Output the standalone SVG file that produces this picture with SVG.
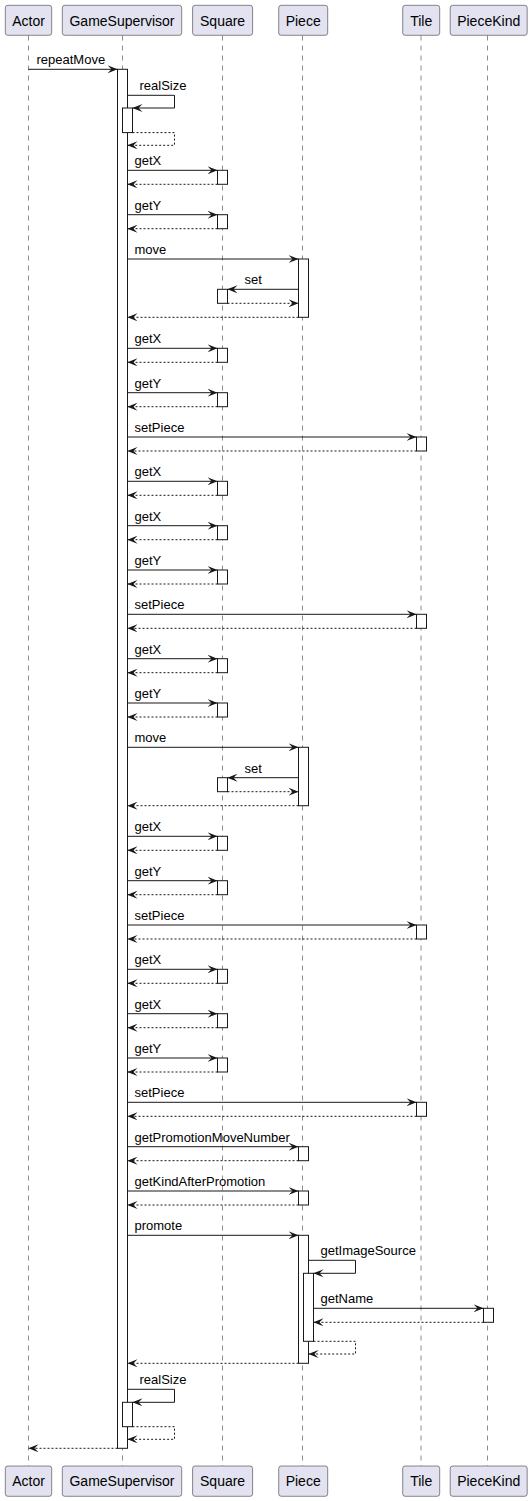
<svg xmlns="http://www.w3.org/2000/svg" width="531" height="1501" viewBox="0 0 531 1501">
<style>
.box{fill:#E2E2F0;stroke:#181818;stroke-width:0.5}
.life{stroke:#181818;stroke-width:0.5;stroke-dasharray:5,5;fill:none}
.act{fill:#FFFFFF;stroke:#181818;stroke-width:1}
.msg{stroke:#181818;stroke-width:1;fill:none}
.ret{stroke:#181818;stroke-width:1;fill:none;stroke-dasharray:2,2}
.pt{font-family:"Liberation Sans",Arial,sans-serif;font-size:14px;fill:#000;text-anchor:middle}
.ml{font-family:"Liberation Sans",Arial,sans-serif;font-size:13px;fill:#000}
</style>
<defs>
<marker id="ah" viewBox="0 0 10 8" refX="10" refY="4" markerWidth="10" markerHeight="8" markerUnits="userSpaceOnUse" orient="auto">
<path d="M0,0 L10,4 L0,8 L4,4 Z" fill="#181818" stroke="none"/>
</marker>
</defs>
<rect width="531" height="1501" fill="#FFFFFF"/>

<g id="Actor">
<line class="life" x1="28.5" y1="35.5" x2="28.5" y2="1466"/>
<rect class="box" x="5.3" y="5.3" width="46.4" height="30" rx="2.5"/>
<text class="pt" x="28.5" y="25.5">Actor</text>
<rect class="box" x="5.3" y="1466" width="46.4" height="30.3" rx="2.5"/>
<text class="pt" x="28.5" y="1486.3">Actor</text>
</g>

<g id="GameSupervisor">
<line class="life" x1="122.5" y1="35.5" x2="122.5" y2="1466"/>
<rect class="box" x="62.3" y="5.3" width="119.4" height="30" rx="2.5"/>
<text class="pt" x="122" y="25.5">GameSupervisor</text>
<rect class="box" x="62.3" y="1466" width="119.4" height="30.3" rx="2.5"/>
<text class="pt" x="122" y="1486.3">GameSupervisor</text>
<rect class="act" x="117.5" y="69.3" width="10" height="1379"/>
<rect class="act" x="122.5" y="108" width="10" height="24.6"/>
<rect class="act" x="122.5" y="1402.3" width="10" height="24.4"/>
</g>

<g id="Square">
<line class="life" x1="222.5" y1="35.5" x2="222.5" y2="1466"/>
<rect class="box" x="192.6" y="5.3" width="60" height="30" rx="2.5"/>
<text class="pt" x="222.6" y="25.5">Square</text>
<rect class="box" x="192.6" y="1466" width="60" height="30.3" rx="2.5"/>
<text class="pt" x="222.6" y="1486.3">Square</text>
<rect class="act" x="217.5" y="170.3" width="10" height="14"/>
<rect class="act" x="217.5" y="214.7" width="10" height="14"/>
<rect class="act" x="217.5" y="289.3" width="10" height="14"/>
<rect class="act" x="217.5" y="348.3" width="10" height="14"/>
<rect class="act" x="217.5" y="392.7" width="10" height="14"/>
<rect class="act" x="217.5" y="481.3" width="10" height="14"/>
<rect class="act" x="217.5" y="525.7" width="10" height="14"/>
<rect class="act" x="217.5" y="570" width="10" height="14"/>
<rect class="act" x="217.5" y="658.7" width="10" height="14"/>
<rect class="act" x="217.5" y="703" width="10" height="14"/>
<rect class="act" x="217.5" y="777.7" width="10" height="14"/>
<rect class="act" x="217.5" y="836.3" width="10" height="14"/>
<rect class="act" x="217.5" y="880.7" width="10" height="14"/>
<rect class="act" x="217.5" y="969.3" width="10" height="14"/>
<rect class="act" x="217.5" y="1013.7" width="10" height="14"/>
<rect class="act" x="217.5" y="1058" width="10" height="14"/>
</g>

<g id="Piece">
<line class="life" x1="302.5" y1="35.5" x2="302.5" y2="1466"/>
<rect class="box" x="278.7" y="5.3" width="49" height="30" rx="2.5"/>
<text class="pt" x="303.2" y="25.5">Piece</text>
<rect class="box" x="278.7" y="1466" width="49" height="30.3" rx="2.5"/>
<text class="pt" x="303.2" y="1486.3">Piece</text>
<rect class="act" x="298.5" y="259" width="10" height="58.3"/>
<rect class="act" x="298.5" y="747.3" width="10" height="58.4"/>
<rect class="act" x="298.5" y="1146.7" width="10" height="14"/>
<rect class="act" x="298.5" y="1191" width="10" height="14"/>
<rect class="act" x="298.5" y="1235.3" width="10" height="128"/>
<rect class="act" x="303.5" y="1273.3" width="10" height="68"/>
</g>

<g id="Tile">
<line class="life" x1="421" y1="35.5" x2="421" y2="1466"/>
<rect class="box" x="402.7" y="5.3" width="37" height="30" rx="2.5"/>
<text class="pt" x="421.2" y="25.5">Tile</text>
<rect class="box" x="402.7" y="1466" width="37" height="30.3" rx="2.5"/>
<text class="pt" x="421.2" y="1486.3">Tile</text>
<rect class="act" x="416.5" y="437" width="10" height="14"/>
<rect class="act" x="416.5" y="614.3" width="10" height="14"/>
<rect class="act" x="416.5" y="925" width="10" height="14"/>
<rect class="act" x="416.5" y="1102.3" width="10" height="14"/>
</g>

<g id="PieceKind">
<line class="life" x1="487.5" y1="35.5" x2="487.5" y2="1466"/>
<rect class="box" x="450.2" y="5.3" width="77" height="30" rx="2.5"/>
<text class="pt" x="488.7" y="25.5">PieceKind</text>
<rect class="box" x="450.2" y="1466" width="77" height="30.3" rx="2.5"/>
<text class="pt" x="488.7" y="1486.3">PieceKind</text>
<rect class="act" x="483.5" y="1308.3" width="10" height="14"/>
</g>

<g id="connectors">
<line class="msg" x1="28.5" y1="69.3" x2="117.5" y2="69.3" marker-end="url(#ah)"/>
<text class="ml" x="36.5" y="64.3">repeatMove</text>

<path class="msg" d="M127.5,95.3 H174.5 V108 H132.5" marker-end="url(#ah)"/>
<text class="ml" x="139.5" y="90.3">realSize</text>
<path class="ret" d="M132.5,132.6 H174.5 V145.3 H127.5" marker-end="url(#ah)"/>

<line class="msg" x1="127.5" y1="170.3" x2="217.5" y2="170.3" marker-end="url(#ah)"/>
<text class="ml" x="134.5" y="165.3">getX</text>
<line class="ret" x1="217.5" y1="184.3" x2="127.5" y2="184.3" marker-end="url(#ah)"/>

<line class="msg" x1="127.5" y1="214.7" x2="217.5" y2="214.7" marker-end="url(#ah)"/>
<text class="ml" x="134.5" y="209.7">getY</text>
<line class="ret" x1="217.5" y1="228.7" x2="127.5" y2="228.7" marker-end="url(#ah)"/>

<line class="msg" x1="127.5" y1="259" x2="298.5" y2="259" marker-end="url(#ah)"/>
<text class="ml" x="134.5" y="254">move</text>
<line class="msg" x1="298.5" y1="289.3" x2="227.5" y2="289.3" marker-end="url(#ah)"/>
<text class="ml" x="244.5" y="284.3">set</text>
<line class="ret" x1="227.5" y1="303.3" x2="298.5" y2="303.3" marker-end="url(#ah)"/>
<line class="ret" x1="298.5" y1="317.3" x2="127.5" y2="317.3" marker-end="url(#ah)"/>

<line class="msg" x1="127.5" y1="348.3" x2="217.5" y2="348.3" marker-end="url(#ah)"/>
<text class="ml" x="134.5" y="343.3">getX</text>
<line class="ret" x1="217.5" y1="362.3" x2="127.5" y2="362.3" marker-end="url(#ah)"/>

<line class="msg" x1="127.5" y1="392.7" x2="217.5" y2="392.7" marker-end="url(#ah)"/>
<text class="ml" x="134.5" y="387.7">getY</text>
<line class="ret" x1="217.5" y1="406.7" x2="127.5" y2="406.7" marker-end="url(#ah)"/>

<line class="msg" x1="127.5" y1="437" x2="416.5" y2="437" marker-end="url(#ah)"/>
<text class="ml" x="134.5" y="432">setPiece</text>
<line class="ret" x1="416.5" y1="451" x2="127.5" y2="451" marker-end="url(#ah)"/>

<line class="msg" x1="127.5" y1="481.3" x2="217.5" y2="481.3" marker-end="url(#ah)"/>
<text class="ml" x="134.5" y="476.3">getX</text>
<line class="ret" x1="217.5" y1="495.3" x2="127.5" y2="495.3" marker-end="url(#ah)"/>

<line class="msg" x1="127.5" y1="525.7" x2="217.5" y2="525.7" marker-end="url(#ah)"/>
<text class="ml" x="134.5" y="520.7">getX</text>
<line class="ret" x1="217.5" y1="539.7" x2="127.5" y2="539.7" marker-end="url(#ah)"/>

<line class="msg" x1="127.5" y1="570" x2="217.5" y2="570" marker-end="url(#ah)"/>
<text class="ml" x="134.5" y="565">getY</text>
<line class="ret" x1="217.5" y1="584" x2="127.5" y2="584" marker-end="url(#ah)"/>

<line class="msg" x1="127.5" y1="614.3" x2="416.5" y2="614.3" marker-end="url(#ah)"/>
<text class="ml" x="134.5" y="609.3">setPiece</text>
<line class="ret" x1="416.5" y1="628.3" x2="127.5" y2="628.3" marker-end="url(#ah)"/>

<line class="msg" x1="127.5" y1="658.7" x2="217.5" y2="658.7" marker-end="url(#ah)"/>
<text class="ml" x="134.5" y="653.7">getX</text>
<line class="ret" x1="217.5" y1="672.7" x2="127.5" y2="672.7" marker-end="url(#ah)"/>

<line class="msg" x1="127.5" y1="703" x2="217.5" y2="703" marker-end="url(#ah)"/>
<text class="ml" x="134.5" y="698">getY</text>
<line class="ret" x1="217.5" y1="717" x2="127.5" y2="717" marker-end="url(#ah)"/>

<line class="msg" x1="127.5" y1="747.3" x2="298.5" y2="747.3" marker-end="url(#ah)"/>
<text class="ml" x="134.5" y="742.3">move</text>
<line class="msg" x1="298.5" y1="777.7" x2="227.5" y2="777.7" marker-end="url(#ah)"/>
<text class="ml" x="244.5" y="772.7">set</text>
<line class="ret" x1="227.5" y1="791.7" x2="298.5" y2="791.7" marker-end="url(#ah)"/>
<line class="ret" x1="298.5" y1="805.7" x2="127.5" y2="805.7" marker-end="url(#ah)"/>

<line class="msg" x1="127.5" y1="836.3" x2="217.5" y2="836.3" marker-end="url(#ah)"/>
<text class="ml" x="134.5" y="831.3">getX</text>
<line class="ret" x1="217.5" y1="850.3" x2="127.5" y2="850.3" marker-end="url(#ah)"/>

<line class="msg" x1="127.5" y1="880.7" x2="217.5" y2="880.7" marker-end="url(#ah)"/>
<text class="ml" x="134.5" y="875.7">getY</text>
<line class="ret" x1="217.5" y1="894.7" x2="127.5" y2="894.7" marker-end="url(#ah)"/>

<line class="msg" x1="127.5" y1="925" x2="416.5" y2="925" marker-end="url(#ah)"/>
<text class="ml" x="134.5" y="920">setPiece</text>
<line class="ret" x1="416.5" y1="939" x2="127.5" y2="939" marker-end="url(#ah)"/>

<line class="msg" x1="127.5" y1="969.3" x2="217.5" y2="969.3" marker-end="url(#ah)"/>
<text class="ml" x="134.5" y="964.3">getX</text>
<line class="ret" x1="217.5" y1="983.3" x2="127.5" y2="983.3" marker-end="url(#ah)"/>

<line class="msg" x1="127.5" y1="1013.7" x2="217.5" y2="1013.7" marker-end="url(#ah)"/>
<text class="ml" x="134.5" y="1008.7">getX</text>
<line class="ret" x1="217.5" y1="1027.7" x2="127.5" y2="1027.7" marker-end="url(#ah)"/>

<line class="msg" x1="127.5" y1="1058" x2="217.5" y2="1058" marker-end="url(#ah)"/>
<text class="ml" x="134.5" y="1053">getY</text>
<line class="ret" x1="217.5" y1="1072" x2="127.5" y2="1072" marker-end="url(#ah)"/>

<line class="msg" x1="127.5" y1="1102.3" x2="416.5" y2="1102.3" marker-end="url(#ah)"/>
<text class="ml" x="134.5" y="1097.3">setPiece</text>
<line class="ret" x1="416.5" y1="1116.3" x2="127.5" y2="1116.3" marker-end="url(#ah)"/>

<line class="msg" x1="127.5" y1="1146.7" x2="298.5" y2="1146.7" marker-end="url(#ah)"/>
<text class="ml" x="134.5" y="1141.7">getPromotionMoveNumber</text>
<line class="ret" x1="298.5" y1="1160.7" x2="127.5" y2="1160.7" marker-end="url(#ah)"/>

<line class="msg" x1="127.5" y1="1191" x2="298.5" y2="1191" marker-end="url(#ah)"/>
<text class="ml" x="134.5" y="1186">getKindAfterPromotion</text>
<line class="ret" x1="298.5" y1="1205" x2="127.5" y2="1205" marker-end="url(#ah)"/>

<line class="msg" x1="127.5" y1="1235.3" x2="298.5" y2="1235.3" marker-end="url(#ah)"/>
<text class="ml" x="134.5" y="1230.3">promote</text>
<path class="msg" d="M308.5,1260.3 H355.5 V1273.3 H313.5" marker-end="url(#ah)"/>
<text class="ml" x="320.5" y="1255.3">getImageSource</text>
<line class="msg" x1="313.5" y1="1308.3" x2="483.5" y2="1308.3" marker-end="url(#ah)"/>
<text class="ml" x="320.5" y="1303.3">getName</text>
<line class="ret" x1="483.5" y1="1322.3" x2="313.5" y2="1322.3" marker-end="url(#ah)"/>
<path class="ret" d="M313.5,1341.3 H355.5 V1354 H308.5" marker-end="url(#ah)"/>
<line class="ret" x1="298.5" y1="1363.3" x2="127.5" y2="1363.3" marker-end="url(#ah)"/>

<path class="msg" d="M127.5,1389.3 H174.5 V1402.3 H132.5" marker-end="url(#ah)"/>
<text class="ml" x="139.5" y="1384.3">realSize</text>
<path class="ret" d="M132.5,1426.7 H174.5 V1439.3 H127.5" marker-end="url(#ah)"/>

<line class="ret" x1="117.5" y1="1448.3" x2="28.5" y2="1448.3" marker-end="url(#ah)"/>
</g>
</svg>
